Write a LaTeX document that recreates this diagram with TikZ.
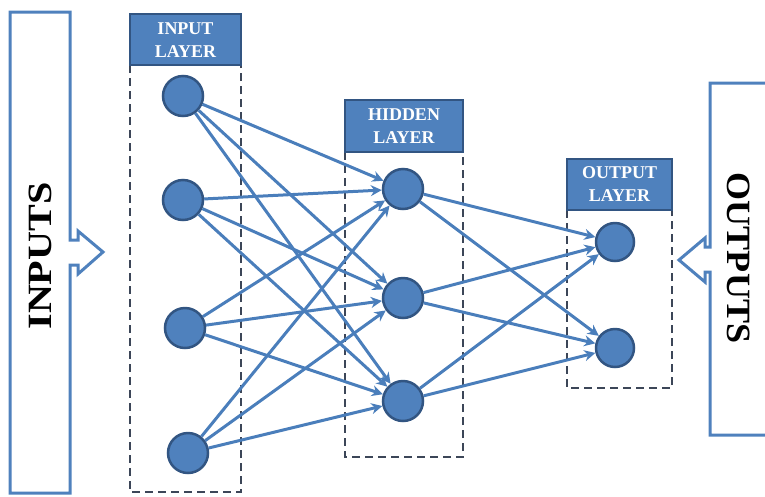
\documentclass[tikz,border=0pt]{standalone}
\usepackage{fontspec}
\setmainfont{Liberation Serif}
\usetikzlibrary{arrows.meta}
\definecolor{nblue}{RGB}{79,129,189}
\definecolor{nborder}{RGB}{50,85,130}
\definecolor{lblue}{RGB}{74,126,187}
\definecolor{dgray}{RGB}{60,70,88}
\tikzset{
  neuron/.style={circle,fill=nblue,draw=nborder,line width=2.5pt,minimum size=40pt,inner sep=0pt},
  oneuron/.style={neuron,minimum size=38pt},
  conn/.style={draw=lblue,line width=3pt,-{Stealth[length=11pt,width=11pt]}},
  header/.style={fill=nblue,draw=nborder,line width=1.5pt},
  headtext/.style={text=white,font=\fontsize{18}{23}\selectfont\bfseries,align=center},
  dashbox/.style={draw=dgray,line width=2.6pt,dash pattern=on 8pt off 5pt},
  bigbox/.style={draw=nblue,line width=3pt,fill=white,line join=miter},
  bigtext/.style={font=\fontsize{34}{34}\selectfont\bfseries,text=black}
}
\begin{document}
\begin{tikzpicture}[x=1pt,y=-1pt]
\useasboundingbox (0,0) rectangle (765,496);
% inputs box with arrow
\draw[bigbox] (10,12) -- (70,12) -- (70,240) -- (78,240) -- (78,231) -- (103,252) -- (78,274) -- (78,265) -- (70,265) -- (70,493) -- (10,493) -- cycle;
\node[bigtext,rotate=90] (inl) at (40,256) {\scalebox{1.18}[1]{INPUTS}};
% outputs box with arrow
\draw[bigbox] (770,83) -- (710,83) -- (710,247) -- (705,247) -- (705,238) -- (679,260) -- (705,282) -- (705,272) -- (710,272) -- (710,435) -- (770,435);
\node[bigtext,rotate=-90] (outl) at (739,258) {\scalebox{1.06}[1]{OUTPUTS}};
% layer boxes
\draw[dashbox] (130,65) -- (130,492) -- (241,492) -- (241,65);
\draw[header] (130,14) rectangle (241,65);
\node[headtext] (ilh) at (185.5,40) {INPUT\\LAYER};
\draw[dashbox] (345,152) -- (345,457) -- (463,457) -- (463,152);
\draw[header] (345,100) rectangle (463,152);
\node[headtext] (hlh) at (404,126) {HIDDEN\\LAYER};
\draw[dashbox] (567,210) -- (567,388) -- (672,388) -- (672,210);
\draw[header] (567,159) rectangle (672,210);
\node[headtext] (olh) at (619.5,184.5) {OUTPUT\\LAYER};
% neurons
\node[neuron] (i1) at (183,96) {};
\node[neuron] (i2) at (183,200) {};
\node[neuron] (i3) at (185,328) {};
\node[neuron] (i4) at (188,453) {};
\node[neuron] (h1) at (403,189) {};
\node[neuron] (h2) at (403,298) {};
\node[neuron] (h3) at (403,401) {};
\node[oneuron] (o1) at (615,242) {};
\node[oneuron] (o2) at (615,348) {};
% connections
\foreach \i in {i1,i2,i3,i4}{
  \foreach \h in {h1,h2,h3}{
    \draw[conn] (\i) -- (\h);
  }
}
\foreach \h in {h1,h2,h3}{
  \foreach \o in {o1,o2}{
    \draw[conn] (\h) -- (\o);
  }
}
\end{tikzpicture}
\end{document}
